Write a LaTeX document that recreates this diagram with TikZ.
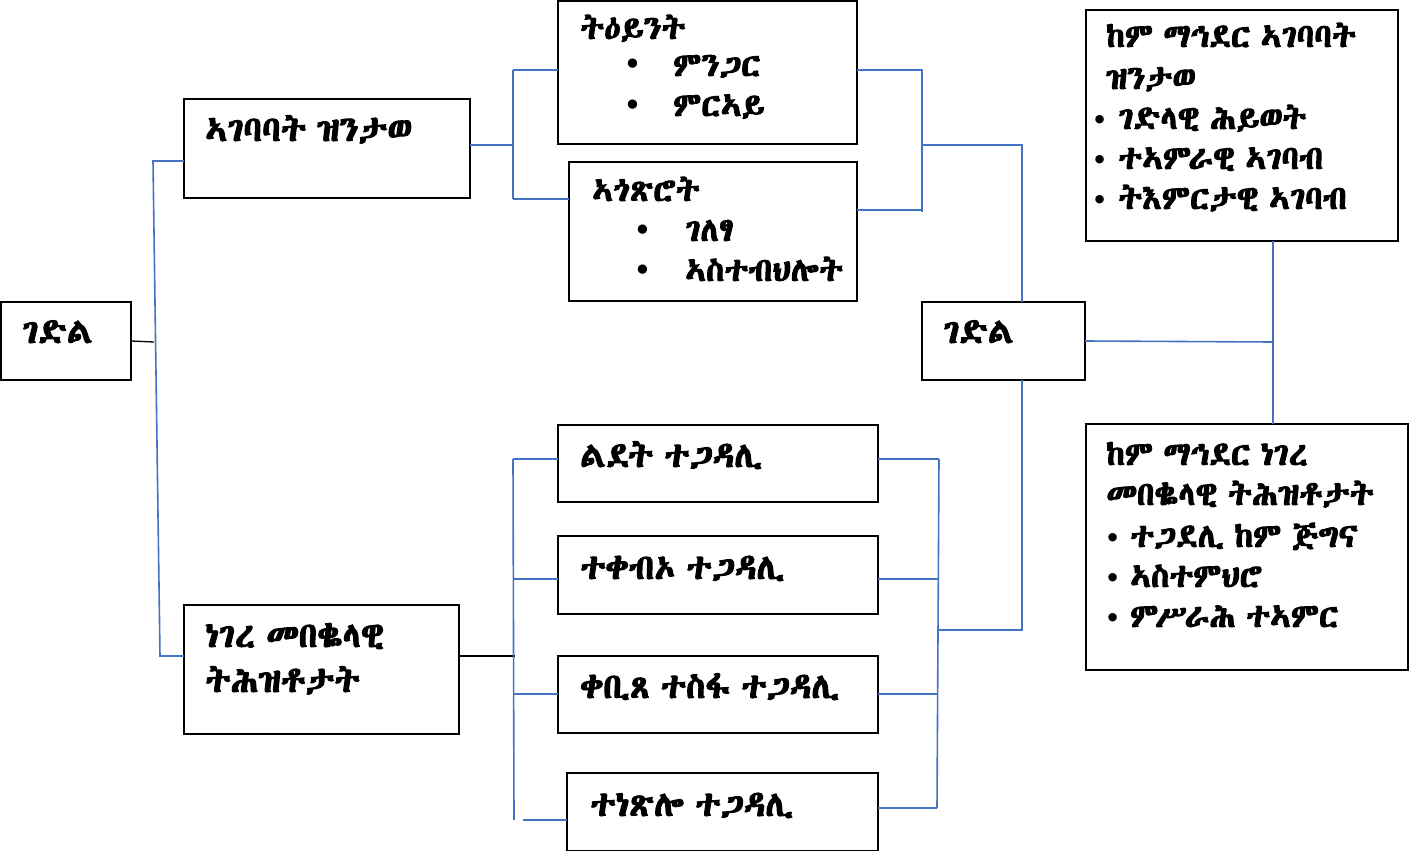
\documentclass[tikz,border=0pt]{standalone}
\usepackage{fontspec}
\IfFontExistsTF{Abyssinica SIL}{\newfontfamily\ethf[AutoFakeBold=3,WordSpace=0.7]{Abyssinica SIL}}{%
  \IfFontExistsTF{FreeSerif}{\newfontfamily\ethf[AutoFakeBold=3,WordSpace=0.7]{FreeSerif}}{%
    \IfFontExistsTF{FreeSans}{\newfontfamily\ethf[AutoFakeBold=3,WordSpace=0.7]{FreeSans}}{%
      \newfontfamily\ethf[AutoFakeBold=3,WordSpace=0.7]{Noto Sans Ethiopic}}}}
\newfontfamily\dvf{DejaVu Sans}
\definecolor{blueline}{RGB}{68,114,196}
\tikzset{
  box/.style={draw=black, line width=1.2pt, anchor=north west, inner sep=0pt, outer sep=0pt},
  bl/.style={draw=blueline, line width=1.6pt},
  blk/.style={draw=black, line width=1.3pt},
  tA/.style={anchor=base west, inner sep=0pt, font=\ethf\bfseries\fontsize{35}{40}\selectfont},
  tB/.style={anchor=base west, inner sep=0pt, font=\ethf\bfseries\fontsize{33}{38}\selectfont},
  bul/.style={anchor=base, inner sep=0pt, font=\dvf\fontsize{32}{36}\selectfont},
  bulS/.style={anchor=base, inner sep=0pt, font=\dvf\fontsize{29}{33}\selectfont},
}
\begin{document}
\begin{tikzpicture}[x=1pt,y=-1pt]
\useasboundingbox (0,0) rectangle (1409,851);
% boxes
\node[box, minimum width=130pt, minimum height=78pt] (g1) at (1,302) {};
\node[box, minimum width=286pt, minimum height=99pt] (agb) at (184,99) {};
\node[box, minimum width=275pt, minimum height=129pt] (neg) at (184,605) {};
\node[box, minimum width=299pt, minimum height=143pt] (tey) at (558,1) {};
\node[box, minimum width=288pt, minimum height=139pt] (agt) at (569,162) {};
\node[box, minimum width=320pt, minimum height=77pt] (b1) at (558,425) {};
\node[box, minimum width=320pt, minimum height=78pt] (b2) at (558,536) {};
\node[box, minimum width=320pt, minimum height=77pt] (b3) at (558,656) {};
\node[box, minimum width=311pt, minimum height=78pt] (b4) at (567,773) {};
\node[box, minimum width=163pt, minimum height=78pt] (g2) at (922,302) {};
\node[box, minimum width=312pt, minimum height=231pt] (tr) at (1086,10) {};
\node[box, minimum width=322pt, minimum height=246pt] (br) at (1086,424) {};
% texts
\node[tA] (tg1) at (22,343) {ገድል};
\node[tA] (tagb) at (205,141) {ኣገባባት ዝንታወ};
\node[tA] (tneg1) at (205,647) {ነገረ መበቈላዊ};
\node[tA] (tneg2) at (205,692) {ትሕዝቶታት};
\node[tB] (ttey) at (580,39) {ትዕይንት};
\node[bul] (u1) at (633,76) {•};
\node[tB] (ttey1) at (673,76) {ምንጋር};
\node[bul] (u2) at (633,116) {•};
\node[tB] (ttey2) at (673,116) {ምርኣይ};
\node[tB] (tagt) at (592,201) {ኣጎጽሮት};
\node[bul] (u3) at (643,241) {•};
\node[tB] (tagt1) at (685,241) {ገለፃ};
\node[bul] (u4) at (643,281) {•};
\node[tB] (tagt2) at (685,281) {ኣስተብህሎት};
\node[tA] (tb1) at (580,467) {ልደት ተጋዳሊ};
\node[tA] (tb2) at (580,579) {ተቀብኦ ተጋዳሊ};
\node[tA] (tb3) at (580,698) {ቀቢጸ ተስፋ ተጋዳሊ};
\node[tA] (tb4) at (590,816) {ተነጽሎ ተጋዳሊ};
\node[tA] (tg2) at (943,343) {ገድል};
\node[tB] (ttr1) at (1106,47) {ከም ማኅደር ኣገባባት};
\node[tB] (ttr2) at (1106,89) {ዝንታወ};
\node[bulS] (u5) at (1100,130) {•};
\node[tB] (ttr3) at (1118,129) {ገድላዊ ሕይወት};
\node[bulS] (u6) at (1100,170) {•};
\node[tB] (ttr4) at (1118,169) {ተኣምራዊ ኣገባብ};
\node[bulS] (u7) at (1100,210) {•};
\node[tB] (ttr5) at (1118,209) {ትእምርታዊ ኣገባብ};
\node[tB] (tbr1) at (1106,465) {ከም ማኅደር ነገረ};
\node[tB] (tbr2) at (1106,505) {መበቈላዊ ትሕዝቶታት};
\node[bulS] (u8) at (1113,548) {•};
\node[tB] (tbr3) at (1130,547) {ተጋደሊ ከም ጅግና};
\node[bulS] (u9) at (1113,588) {•};
\node[tB] (tbr4) at (1130,587) {ኣስተምህሮ};
\node[bulS] (u10) at (1113,628) {•};
\node[tB] (tbr5) at (1130,627) {ምሥራሕ ተኣምር};
% junction coordinates
\coordinate (jA) at (154,342);
\coordinate (jL1) at (153,161);
\coordinate (jL2) at (160,656);
\coordinate (jT1) at (513,70);
\coordinate (jT2) at (513,199);
\coordinate (jT0) at (513,145);
\coordinate (jR1) at (922,70);
\coordinate (jR2) at (922,210);
\coordinate (jR2b) at (922,212);
\coordinate (jR3) at (922,145);
\coordinate (jR4) at (1022,145);
\coordinate (jR5) at (1022,630);
\coordinate (jR6) at (939,630);
\coordinate (jB1) at (939,459);
\coordinate (jB4) at (937,808);
\coordinate (jN) at (515,656);
\coordinate (jM1) at (513,459);
\coordinate (jM2) at (513,579);
\coordinate (jM3) at (513,694);
\coordinate (jM4) at (514,820);
\coordinate (jM4b) at (523,820);
\coordinate (jRR) at (1273,342);
% connectors
\draw[blk] (g1.east) -- (jA);
\draw[bl] (agb.west |- jL1) -- (jL1) -- (jL2) -- (neg.west |- jL2);
\draw[bl] (agb.east |- jT0) -- (jT0);
\draw[bl] (jT1) -- (jT2);
\draw[bl] (jT1) -- (tey.west |- jT1);
\draw[bl] (jT2) -- (agt.west |- jT2);
\draw[bl] (tey.east |- jR1) -- (jR1) -- (jR2b);
\draw[bl] (agt.east |- jR2) -- (jR2);
\draw[bl] (jR3) -- (jR4) -- (jR4 |- g2.north);
\draw[bl] (jR4 |- g2.south) -- (jR5) -- (jR6);
\draw[bl] (jB1) -- (jB4);
\draw[bl] (b1.east |- jB1) -- (jB1);
\draw[bl] (b2.east |- jM2) -- (jM2 -| jB1);
\draw[bl] (b3.east |- jM3) -- (jM3 -| jB4);
\draw[bl] (b4.east |- jB4) -- (jB4);
\draw[blk] (neg.east |- jN) -- (jN);
\draw[bl] (jM1) -- (jM4);
\draw[bl] (jM1) -- (b1.west |- jM1);
\draw[bl] (jM2) -- (b2.west |- jM2);
\draw[bl] (jM3) -- (b3.west |- jM3);
\draw[bl] (jM4b) -- (b4.west |- jM4b);
\draw[bl] (g2.east) -- (jRR);
\draw[bl] (tr.south -| jRR) -- (br.north -| jRR);
\end{tikzpicture}
\end{document}
